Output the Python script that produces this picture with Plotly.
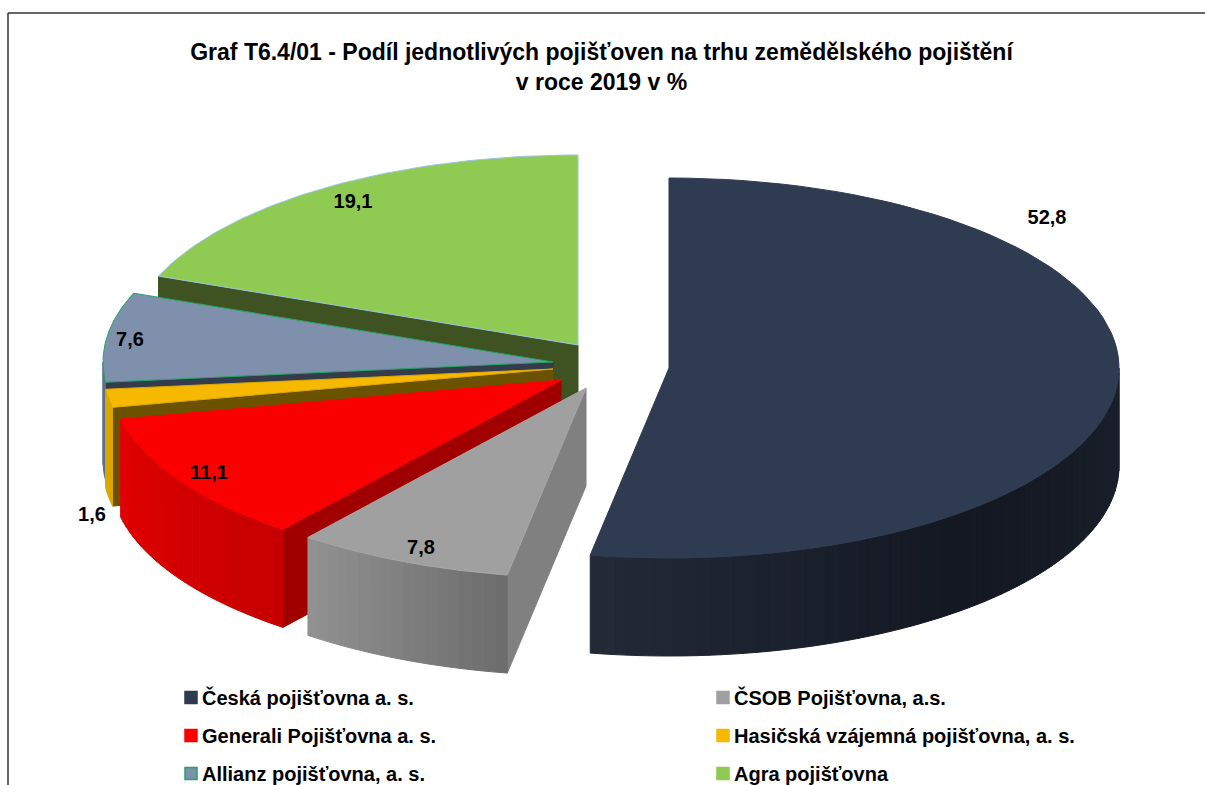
import numpy as np
import plotly.graph_objects as go

# ---- data ----
insurers = ["Česká pojišťovna a. s.", "ČSOB Pojišťovna, a.s.", "Generali Pojišťovna a. s.",
            "Hasičská vzájemná pojišťovna, a. s.", "Allianz pojišťovna, a. s.", "Agra pojišťovna"]
shares = [52.8, 7.8, 11.1, 1.6, 7.6, 19.1]
title_text = ("Graf T6.4/01 - Podíl jednotlivých pojišťoven na trhu zemědělského pojištění"
              "<br>v roce 2019 v %")

# ---- style / layout of the exploded 3-D pie ----
apex_x = [669, 586, 561, 553, 553, 578]
apex_y = [368, 388, 380, 369, 362, 345]
RX, RY, DEPTH = 450, 190, 98
top_colors = ["#2f3b50", "#a0a0a0", "#fb0000", "#f7b900", "#7e90ac", "#8fca52"]
edge_colors = ["#2f3b50", "#a8a8a8", "#ff0000", "#e0a800", "#22a565", "#9cc4e4"]
radial_colors = ["#1c2330", "#808080", "#a00000", "#6a5200", "#343b4b", "#3e5222"]
rim_left = ["#232b38", "#929292", "#e20000", "#dba600", "#5f6f8a", "#3e5222"]
rim_mid = ["#131822", "#808080", "#d40000", "#dba600", "#5f6f8a", "#3e5222"]
rim_right = ["#1b212c", "#6c6c6c", "#c60000", "#dba600", "#5f6f8a", "#3e5222"]
label_xy = [(1047, 219), (421, 549), (209, 474), (92, 516), (130, 341), (353, 203)]
legend_columns = {"legend": [0, 2, 4], "legend2": [1, 3, 5]}


def rgb(h):
    return np.array([int(h[i:i + 2], 16) for i in (1, 3, 5)], dtype=float)


def mix(a, b, t):
    c = rgb(a) * (1 - t) + rgb(b) * t
    return "rgb(%d,%d,%d)" % tuple(c)


def rim_point(i, deg):
    r = np.radians(deg)
    return apex_x[i] + RX * np.sin(r), apex_y[i] - RY * np.cos(r)


def poly(xs, ys, fill, line=None, width=1.0):
    return go.Scatter(x=list(xs), y=list(ys), mode="lines", fill="toself", fillcolor=fill,
                      line=dict(color=line or fill, width=width), showlegend=False, hoverinfo="skip")


fig = go.Figure()
bounds = np.concatenate([[0], np.cumsum(shares)]) * 3.6

# back-to-front painting order follows the slice order reversed around the front
for i in [5, 4, 3, 2, 1, 0]:
    a0, a1 = bounds[i], bounds[i + 1]
    # radial wall on the starting edge
    px, py = rim_point(i, a0)
    if i != 0:
        fig.add_trace(poly([apex_x[i], px, px, apex_x[i], apex_x[i]],
                           [apex_y[i], py, py + DEPTH, apex_y[i] + DEPTH, apex_y[i]],
                           radial_colors[i]))
    # outer rim, visible only on the front half of the ellipse
    lo, hi = max(a0, 90), min(a1, 270)
    if hi > lo:
        n = max(2, int((hi - lo) / 1.5))
        edges = np.linspace(lo, hi, n + 1)
        for k in range(n):
            x0, y0 = rim_point(i, edges[k])
            x1, y1 = rim_point(i, edges[k + 1])
            t = 1 - (k + 0.5) / n  # 0 at the left end of the wall, 1 at the right end
            col = mix(rim_left[i], rim_mid[i], t * 2) if t < 0.5 else mix(rim_mid[i], rim_right[i], t * 2 - 1)
            fig.add_trace(poly([x0, x1, x1, x0, x0], [y0, y1, y1 + DEPTH, y0 + DEPTH, y0], col))
    # top face
    th = np.linspace(a0, a1, 80)
    rx, ry = rim_point(i, th)
    fig.add_trace(poly(np.r_[apex_x[i], rx, apex_x[i]], np.r_[apex_y[i], ry, apex_y[i]],
                       top_colors[i], edge_colors[i], 1.0))

# data labels
fig.add_trace(go.Scatter(x=[p[0] for p in label_xy], y=[p[1] for p in label_xy], mode="text",
                         text=[f"{v:.1f}".replace(".", ",") for v in shares],
                         textposition="middle center",
                         textfont=dict(family="Liberation Sans", size=20, color="black",
                                       weight="bold"),
                         showlegend=False, hoverinfo="skip"))

# legend entries
for leg, idxs in legend_columns.items():
    for i in idxs:
        fig.add_trace(go.Scatter(x=[None], y=[None], mode="markers", name=insurers[i],
                                 legend=leg, legendgroup=insurers[i],
                                 marker=dict(symbol="square", size=12, color=top_colors[i],
                                             line=dict(color=edge_colors[i] if i == 4 else top_colors[i],
                                                       width=1.5))))

legend_style = dict(orientation="v", xanchor="left", yanchor="top", tracegroupgap=9,
                    bgcolor="rgba(0,0,0,0)", itemclick=False, itemdoubleclick=False,
                    font=dict(family="Liberation Sans", size=20, color="black", weight="bold"))

fig.update_layout(
    width=1205, height=785, margin=dict(l=0, r=0, t=0, b=0, autoexpand=False),
    paper_bgcolor="white", plot_bgcolor="white", showlegend=True,
    title=dict(text=title_text, x=601.5 / 1205, xanchor="center", xref="paper",
               y=1 - 60 / 785, yanchor="top", yref="container",
               font=dict(family="Liberation Sans", size=23, color="black", weight="bold")),
    xaxis=dict(range=[0, 1205], visible=False, fixedrange=True),
    yaxis=dict(range=[785, 0], visible=False, fixedrange=True),
    legend=dict(x=(170 - 8) / 1205, y=1 - 678 / 785, **legend_style),
    legend2=dict(x=(702 - 8) / 1205, y=1 - 678 / 785, **legend_style),
    shapes=[dict(type="line", x0=8, x1=8, y0=785, y1=13, xref="x", yref="y",
                 line=dict(color="#333333", width=1.5)),
            dict(type="line", x0=8, x1=1205, y0=13, y1=13, xref="x", yref="y",
                 line=dict(color="#333333", width=1.5))],
)

# the reference keeps its legend swatches right next to the text
fig.write_html("out.html", config={"displayModeBar": False},
               post_script="document.body.style.margin='0';"
                           "document.querySelectorAll('.legendpoints').forEach("
                           "function(e){e.setAttribute('transform','translate(9,0)');});")
